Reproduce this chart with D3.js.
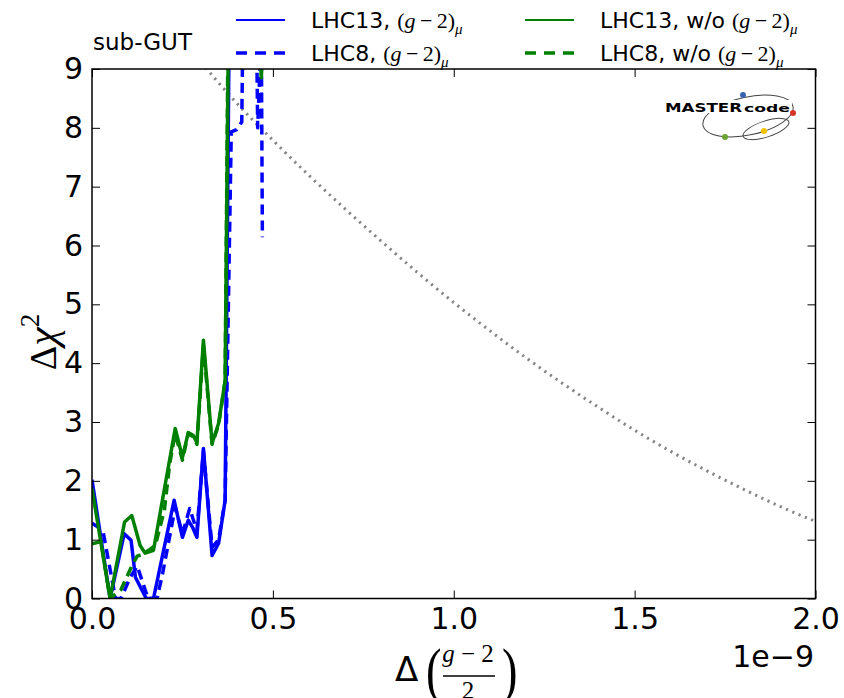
<!DOCTYPE html>
<html>
<head>
<meta charset="utf-8">
<script src="https://cdn.jsdelivr.net/npm/d3@7"></script>
<style>
  body { margin: 0; background: #fff; }
  svg { display: block; font-family: 'DejaVu Sans', sans-serif; }
  .math { font-family: 'Liberation Serif', 'DejaVu Serif', serif; }
</style>
</head>
<body>
<svg id="chart" width="844" height="698"></svg>
<script>
// values in units of 1e-9 on x, delta chi^2 on y
const xTicks = [0, 0.5, 1.0, 1.5, 2.0]
const yTicks = [0, 1, 2, 3, 4, 5, 6, 7, 8, 9]

const lhc13Gm2 = [
  [0, 2.02], [0.05, 0.0], [0.089, 1.1], [0.108, 0.99], [0.12, 0.36],
  [0.15, 0.0], [0.17, 0.0], [0.227, 1.67], [0.25, 1.04], [0.266, 1.33],
  [0.278, 1.21], [0.29, 1.04], [0.308, 2.55], [0.332, 0.73], [0.35, 0.94],
  [0.368, 1.67], [0.379, 9.6],
]
const lhc8Gm2 = [
  [0, 1.28], [0.03, 1.16], [0.065, 0.0], [0.08, 0.0], [0.105, 0.35],
  [0.125, 0.55], [0.155, 0.0], [0.18, 0.0], [0.195, 0.42], [0.23, 1.55],
  [0.25, 1.1], [0.27, 1.53], [0.29, 1.15], [0.308, 2.5], [0.332, 0.87],
  [0.35, 1.0], [0.368, 1.67], [0.385, 7.93], [0.4, 7.97], [0.414, 8.1],
  [0.417, 9.6], [0.455, 9.6], [0.458, 8.0], [0.468, 9.6], [0.471, 6.14],
]
const lhc13NoGm2 = [
  [0, 1.87], [0.05, 0.0], [0.09, 1.3], [0.11, 1.41], [0.133, 0.9],
  [0.147, 0.77], [0.17, 0.82], [0.23, 2.89], [0.25, 2.4], [0.266, 2.82],
  [0.28, 2.77], [0.29, 2.65], [0.308, 4.39], [0.332, 2.64], [0.35, 2.98],
  [0.368, 3.7], [0.377, 9.6], [0.462, 9.6], [0.468, 8.85], [0.474, 9.6],
]
const lhc8NoGm2 = [
  [0, 0.93], [0.025, 0.97], [0.05, 0.0], [0.08, 0.15], [0.11, 0.55],
  [0.125, 0.72], [0.14, 0.75], [0.175, 0.9], [0.2, 1.5], [0.215, 2.3],
  [0.23, 2.8], [0.25, 2.35], [0.266, 2.8], [0.28, 2.75], [0.29, 2.62],
  [0.308, 4.3], [0.332, 2.62], [0.35, 2.95], [0.368, 3.7], [0.376, 9.6],
]
// grey dotted reference curve (g-2 alone)
const gm2Only = [
  [0.29, 9.2], [0.4, 8.42], [0.5, 7.79], [0.6, 7.19], [0.7, 6.62], [0.8, 6.07],
  [0.9, 5.54], [1.0, 5.03], [1.1, 4.55], [1.2, 4.09], [1.3, 3.66],
  [1.4, 3.25], [1.5, 2.86], [1.6, 2.5], [1.7, 2.17], [1.8, 1.86],
  [1.9, 1.57], [2.0, 1.31],
]

const series = [
  { label: 'LHC13', note: '', data: lhc13Gm2, color: '#0000ff', dash: null },
  { label: 'LHC8', note: '', data: lhc8Gm2, color: '#0000ff', dash: '10,6' },
  { label: 'LHC13', note: ' w/o', data: lhc13NoGm2, color: '#008000', dash: null },
  { label: 'LHC8', note: ' w/o', data: lhc8NoGm2, color: '#008000', dash: '10,6' },
]

const margin = { top: 69, right: 28.5, bottom: 99.5, left: 92 }
const width = 844 - margin.left - margin.right
const height = 698 - margin.top - margin.bottom

const svg = d3.select('#chart')
const g = svg.append('g').attr('transform', `translate(${margin.left}, ${margin.top})`)

const xScale = d3.scaleLinear().domain([0, 2]).range([0, width])
const yScale = d3.scaleLinear().domain([0, 9]).range([height, 0])

g.append('clipPath').attr('id', 'plot-clip')
  .append('rect').attr('width', width).attr('height', height)

const line = d3.line().x(d => xScale(d[0])).y(d => yScale(d[1]))

const plot = g.append('g').attr('clip-path', 'url(#plot-clip)')

plot.append('path')
  .datum(gm2Only)
  .attr('fill', 'none')
  .attr('stroke', '#858585')
  .attr('stroke-width', 3)
  .attr('stroke-dasharray', '2.2,4.6')
  .attr('d', line.curve(d3.curveMonotoneX))

line.curve(d3.curveLinear)

plot.selectAll('path.series')
  .data(series)
  .join('path')
  .attr('class', 'series')
  .attr('fill', 'none')
  .attr('stroke', d => d.color)
  .attr('stroke-width', 3.5)
  .attr('stroke-linejoin', 'round')
  .attr('stroke-dasharray', d => d.dash)
  .attr('d', d => line(d.data))

// axes, ticks pointing inward on all sides
const styleAxis = sel => {
  sel.select('.domain').remove()
  sel.selectAll('.tick line').attr('stroke', '#000').attr('stroke-width', 1)
  sel.selectAll('.tick text').attr('fill', '#000')
    .style('font-family', "'DejaVu Sans', sans-serif").style('font-size', '30px')
}

g.append('g')
  .attr('transform', `translate(0, ${height})`)
  .call(d3.axisBottom(xScale).tickValues(xTicks).tickFormat(d3.format('.1f')).tickSize(-8).tickPadding(9))
  .call(styleAxis)
g.append('g')
  .call(d3.axisTop(xScale).tickValues(xTicks).tickFormat('').tickSize(-8))
  .call(styleAxis)
g.append('g')
  .call(d3.axisLeft(yScale).tickValues(yTicks).tickFormat(d3.format('d')).tickSize(-8).tickPadding(9))
  .call(styleAxis)
g.append('g')
  .attr('transform', `translate(${width}, 0)`)
  .call(d3.axisRight(yScale).tickValues(yTicks).tickFormat('').tickSize(-8))
  .call(styleAxis)

g.append('rect')
  .attr('width', width).attr('height', height)
  .attr('fill', 'none').attr('stroke', '#000').attr('stroke-width', 1.5)

// offset text
svg.append('text')
  .attr('x', 814).attr('y', 667)
  .attr('text-anchor', 'end')
  .style('font-size', '30px')
  .text('1e\u22129')

// x label: Δ((g−2)/2)
const xl = svg.append('g').attr('class', 'math')
xl.append('text').attr('x', 395).attr('y', 681).style('font-size', '34px')
  .style('font-family', "'DejaVu Sans', sans-serif").text('\u0394')
xl.append('text').attr('x', 426).attr('y', 691).style('font-size', '62px')
  .attr('transform', 'translate(426,691) scale(0.75,1) translate(-426,-691)').text('(')
xl.append('text').attr('x', 502).attr('y', 691).style('font-size', '62px')
  .attr('transform', 'translate(502,691) scale(0.75,1) translate(-502,-691)').text(')')
const num = xl.append('text').attr('x', 468).attr('y', 662).attr('text-anchor', 'middle')
  .style('font-size', '25px')
num.append('tspan').style('font-style', 'italic').text('g')
num.append('tspan').text(' \u2212 2')
xl.append('line').attr('x1', 443).attr('x2', 495).attr('y1', 676).attr('y2', 676)
  .attr('stroke', '#000').attr('stroke-width', 1.5)
xl.append('text').attr('x', 468).attr('y', 699).attr('text-anchor', 'middle')
  .style('font-size', '25px').text('2')

// y label: Δχ²
const yl = svg.append('text')
  .attr('transform', 'translate(56, 342) rotate(-90)')
  .attr('text-anchor', 'middle')
  .style('font-size', '38px')
yl.append('tspan').attr('class', 'math').text('\u0394')
yl.append('tspan').attr('class', 'math').style('font-style', 'italic').style('font-size', '42px').text('\u03c7')
yl.append('tspan').attr('class', 'math').attr('dy', -17).style('font-size', '27px').text('2')

// panel label
svg.append('text').attr('x', 93).attr('y', 50).style('font-size', '23px').text('sub-GUT')

// legend (two columns)
const legendPos = [
  { x: 236, y: 20 }, { x: 236, y: 53 }, { x: 525, y: 20 }, { x: 525, y: 53 },
]
const legend = svg.selectAll('g.legend')
  .data(series)
  .join('g')
  .attr('class', 'legend')
  .attr('transform', (d, i) => `translate(${legendPos[i].x}, ${legendPos[i].y})`)

legend.append('line')
  .attr('x1', 0).attr('x2', 49)
  .attr('stroke', d => d.color)
  .attr('stroke-width', d => d.dash ? 3.5 : 2)
  .attr('stroke-dasharray', d => d.dash ? '11,8' : null)

const legendText = legend.append('text')
  .attr('x', 75).attr('y', 8)
  .style('font-size', '22px')
legendText.append('tspan').text(d => d.label + ',' + d.note + ' ')
legendText.append('tspan').attr('class', 'math').text('(')
legendText.append('tspan').attr('class', 'math').style('font-style', 'italic').text('g')
legendText.append('tspan').attr('class', 'math').text('\u2009\u2212\u20092)')
legendText.append('tspan').attr('class', 'math').attr('dy', 6)
  .style('font-size', '15px').style('font-style', 'italic').text('\u03bc')

// MasterCode logo
const logo = svg.append('g')
logo.append('ellipse').attr('cx', 748).attr('cy', 116).attr('rx', 46).attr('ry', 19)
  .attr('transform', 'rotate(-12, 748, 116)')
  .attr('fill', 'none').attr('stroke', '#444').attr('stroke-width', 1)
logo.append('ellipse').attr('cx', 766).attr('cy', 129).attr('rx', 24).attr('ry', 8)
  .attr('transform', 'rotate(-18, 766, 129)')
  .attr('fill', 'none').attr('stroke', '#444').attr('stroke-width', 1)
logo.append('rect').attr('x', 664).attr('y', 100).attr('width', 128).attr('height', 13).attr('fill', '#fff')
logo.append('text').attr('x', 665).attr('y', 112)
  .attr('textLength', 77).attr('lengthAdjust', 'spacingAndGlyphs')
  .style('font-size', '13px').style('font-weight', 'bold').text('MASTER')
logo.append('text').attr('x', 744).attr('y', 112)
  .attr('textLength', 46).attr('lengthAdjust', 'spacingAndGlyphs')
  .style('font-size', '10px').style('font-weight', 'bold').text('code')
const dots = [
  { x: 743, y: 95, c: '#3a64b0' }, { x: 793, y: 113, c: '#d9342b' },
  { x: 725, y: 137, c: '#6aa332' }, { x: 764, y: 131, c: '#f2c200' },
]
logo.selectAll('circle').data(dots).join('circle')
  .attr('cx', d => d.x).attr('cy', d => d.y).attr('r', 3).attr('fill', d => d.c)
</script>
</body>
</html>
